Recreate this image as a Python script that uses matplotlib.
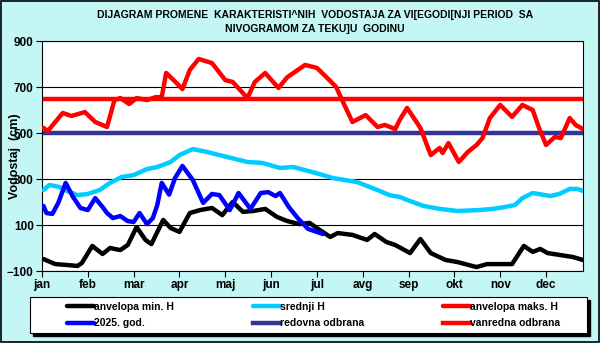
import matplotlib
matplotlib.use("Agg")

import matplotlib.pyplot as plt
from matplotlib.patches import Rectangle

plt.rcParams["font.family"] = ["Liberation Sans", "DejaVu Sans"]
plt.rcParams["font.weight"] = "bold"
plt.rcParams["axes.labelweight"] = "bold"

TITLE = ("DIJAGRAM PROMENE  KARAKTERISTI^NIH  VODOSTAJA ZA VI[EGODI[NJI PERIOD  SA\n"
         "NIVOGRAMOM ZA TEKU]U  GODINU")
MONTHS = ["jan", "feb", "mar", "apr", "maj", "jun",
          "jul", "avg", "sep", "okt", "nov", "dec"]
Y_TICKS = [-100, 100, 300, 500, 700, 900]

# day of year -> water level (cm)
max_day = [1, 4, 14, 20, 29, 36, 44, 49, 53, 59, 64, 71, 77, 81, 84, 89, 95, 100, 106,
           115, 124, 129, 139, 144, 151, 160, 166, 171, 178, 186, 193, 199, 204, 210,
           219, 227, 232, 239, 242, 247, 256, 263, 269, 271, 275, 282, 288, 294, 298,
           303, 310, 318, 325, 332, 336, 341, 347, 351, 357, 361, 366]
max_h = [522, 509, 587, 574, 591, 548, 526, 643, 652, 626, 652, 643, 656, 656, 761, 730,
         691, 774, 822, 804, 730, 722, 652, 722, 761, 696, 743, 765, 796, 783, 739, 700,
         630, 548, 578, 526, 535, 517, 557, 609, 522, 404, 435, 413, 456, 374, 417, 448,
         478, 565, 622, 570, 622, 600, 526, 448, 483, 478, 565, 535, 517]

mean_day = [1, 5, 12, 17, 24, 31, 39, 46, 54, 62, 71, 78, 87, 93, 102, 112, 125, 139,
            149, 161, 170, 183, 197, 213, 227, 235, 242, 247, 258, 269, 281, 296, 305,
            313, 320, 325, 332, 344, 350, 357, 362, 366]
mean_h = [252, 274, 265, 248, 230, 235, 252, 283, 309, 317, 343, 352, 374, 404, 430, 417,
          396, 374, 370, 348, 352, 330, 304, 287, 252, 230, 222, 209, 183, 170, 161, 165,
          170, 178, 187, 217, 239, 226, 235, 257, 257, 248]

min_day = [1, 9, 17, 24, 27, 34, 41, 46, 53, 58, 64, 70, 74, 82, 87, 93, 100, 107, 115,
           122, 129, 136, 143, 151, 159, 166, 174, 181, 188, 195, 200, 210, 220, 225,
           233, 239, 249, 256, 263, 273, 281, 294, 301, 310, 318, 326, 332, 337, 342,
           350, 359, 366]
min_h = [-48, -70, -74, -78, -65, 9, -26, 0, -9, 13, 91, 35, 17, 122, 87, 70, 152, 165,
         174, 143, 200, 157, 161, 170, 135, 117, 104, 109, 78, 48, 65, 57, 35, 61, 26, 13,
         -22, 39, -22, -52, -61, -83, -70, -70, -70, 9, -17, -4, -22, -30, -39, -52]

cur_day = [1, 3, 7, 11, 16, 21, 26, 31, 36, 41, 44, 48, 53, 58, 62, 66, 71, 75, 78, 81,
           86, 90, 95, 102, 109, 115, 120, 127, 133, 141, 148, 153, 158, 161, 167, 173,
           180, 190]
cur_h = [183, 152, 148, 196, 283, 222, 174, 165, 217, 178, 152, 130, 139, 117, 113, 152,
         104, 130, 187, 283, 232, 304, 357, 296, 196, 235, 230, 165, 239, 170, 239, 243,
         226, 239, 178, 130, 83, 61]

REDOVNA = 500
VANREDNA = 650

fig = plt.figure(figsize=(6, 3.43), dpi=100, facecolor="#c4f6f6")
ax = fig.add_axes([42 / 600, 1 - 271 / 343, 541 / 600, 230 / 343])

kw = dict(lw=3.2, solid_joinstyle="round", solid_capstyle="round")
ax.axhline(VANREDNA, color="#ff0000", lw=3.2, zorder=2, label="vanredna odbrana")
ax.axhline(REDOVNA, color="#333399", lw=3.2, zorder=2, label="redovna odbrana")
ax.plot(min_day, min_h, color="black", label="anvelopa min. H", zorder=3, **kw)
ax.plot(mean_day, mean_h, color="#00ccff", label="srednji H", zorder=3, **kw)
ax.plot(max_day, max_h, color="#ff0000", label="anvelopa maks. H", zorder=3, **kw)
ax.plot(cur_day, cur_h, color="#0000ff", label="2025. god.", zorder=4, **kw)

ax.set_xlim(0, 366)
ax.set_ylim(-100, 900)
ax.set_xticks([31 * i for i in range(12)])
ax.set_xticklabels(MONTHS)
ax.set_yticks(Y_TICKS)
ax.tick_params(direction="out", length=4, width=0.8, labelsize=8.5, pad=2)
ax.grid(axis="y", color="black", lw=0.8)
for s in ax.spines.values():
    s.set_linewidth(0.8)
ax.set_ylabel("Vodostaj  (cm)", fontsize=9)
ax.yaxis.set_label_coords(-21 / 541, 0.5)

fig.text(315 / 600, 1 - 22 / 343, TITLE, ha="center", va="center",
         fontsize=7.5, linespacing=1.6)

# legend frame with Excel-like drop shadow
box = [30 / 600, 1 - 333 / 343, 557 / 600, 36 / 343]
fig.patches.append(Rectangle((box[0] + 3 / 600, box[1] - 3 / 343), box[2], box[3],
                             transform=fig.transFigure, color="black", zorder=0))
fig.patches.append(Rectangle((box[0], box[1]), box[2], box[3], transform=fig.transFigure,
                             facecolor="white", edgecolor="black", lw=0.8, zorder=1))
h = {l.get_label(): l for l in ax.get_lines()}
order = ["anvelopa min. H", "2025. god.", "srednji H", "redovna odbrana",
         "anvelopa maks. H", "vanredna odbrana"]
fig.legend([h[k] for k in order], order, ncol=3, mode="expand", frameon=False,
           bbox_to_anchor=(60 / 600, 1 - 335 / 343, 507 / 600, 40 / 343),
           loc="center", fontsize=7.5, handlelength=2.6, handletextpad=0.0,
           labelspacing=0.65, borderpad=0.2)

fig.patches.append(Rectangle((0.001, 0.002), 0.997, 0.995, transform=fig.transFigure,
                             fill=False, edgecolor="black", lw=1.2))

fig.savefig("out.png", dpi=100, facecolor=fig.get_facecolor())
